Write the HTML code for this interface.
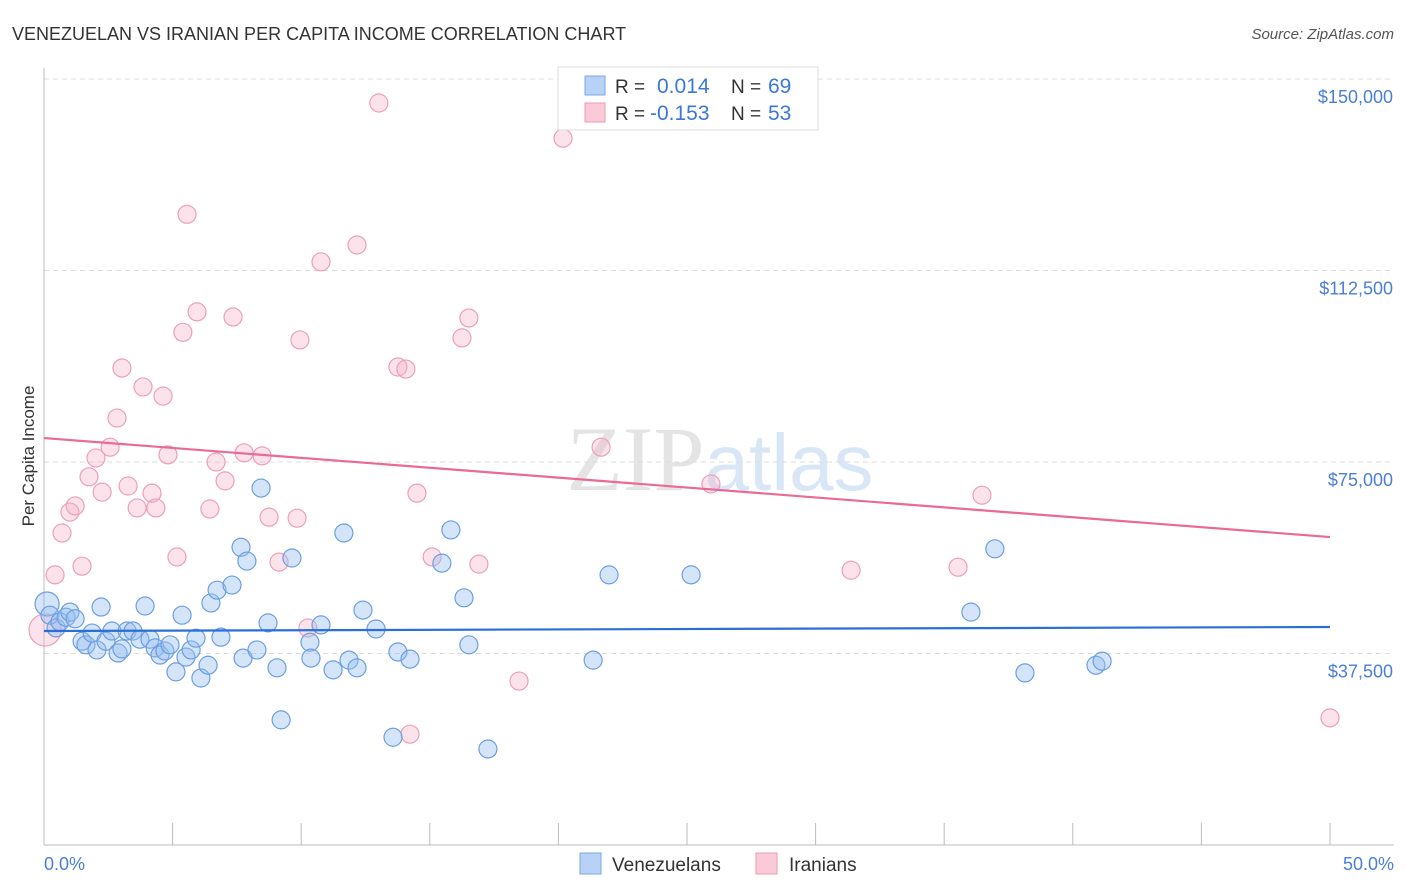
<!DOCTYPE html>
<html><head><meta charset="utf-8"><style>
body{margin:0;background:#fff;font-family:"Liberation Sans",sans-serif;}
svg{display:block}
</style></head><body>
<svg id="chart" width="1406" height="892" xmlns="http://www.w3.org/2000/svg">
<text x="12" y="40" font-size="18" fill="#333">VENEZUELAN VS IRANIAN PER CAPITA INCOME CORRELATION CHART</text>
<text x="1394" y="39" font-size="15" fill="#555" font-style="italic" text-anchor="end">Source: ZipAtlas.com</text>
<text x="720" y="490" font-size="92" fill="#e4e4e4" text-anchor="middle" font-family="Liberation Serif">ZIP<tspan fill="#d8e6f6" font-family="Liberation Sans" font-size="80">atlas</tspan></text>
<g id="grid"></g>
<g id="axes"></g>
<g id="points"></g>
<g id="trends"></g>
<text transform="translate(34,456) rotate(-90)" font-size="17" fill="#333" text-anchor="middle">Per Capita Income</text>
<text x="44" y="870" font-size="18" fill="#4a7fd6">0.0%</text>
<text x="1394" y="870" font-size="18" fill="#4a7fd6" text-anchor="end">50.0%</text>
<g>
<rect x="558" y="67" width="260" height="63" fill="#fff" stroke="#ddd"/>
<rect x="585" y="76" width="20" height="19" fill="#b8d2f6" stroke="#7aa8e8"/>
<rect x="585" y="103" width="20" height="19" fill="#fbcad8" stroke="#eb9ab5"/>
<text x="615" y="93" font-size="19" fill="#333">R = </text><text x="657" y="93" font-size="21" fill="#3b78d8">0.014</text>
<text x="731" y="93" font-size="19" fill="#333">N = </text><text x="768" y="93" font-size="21" fill="#3b78d8">69</text>
<text x="615" y="120" font-size="19" fill="#333">R = </text><text x="650" y="120" font-size="21" fill="#3b78d8">-0.153</text>
<text x="731" y="120" font-size="19" fill="#333">N = </text><text x="768" y="120" font-size="21" fill="#3b78d8">53</text>
</g>
<g>
<rect x="580" y="853" width="21" height="21" fill="#b8d2f6" stroke="#7aa8e8"/>
<text x="612" y="871" font-size="19" fill="#333">Venezuelans</text>
<rect x="756" y="853" width="21" height="21" fill="#fbcad8" stroke="#eb9ab5"/>
<text x="789" y="871" font-size="19" fill="#333">Iranians</text>
</g>
</svg>
<script>
const yTicks=[37500,75000,112500,150000];
const yTickLabels=["$37,500","$75,000","$112,500","$150,000"];
const blueX=[0.12,0.23,0.47,0.62,0.86,1.01,1.21,1.48,1.63,1.87,2.06,2.22,2.41,2.64,2.88,3.03,3.23,3.46,3.73,3.93,4.12,4.32,4.51,4.70,4.90,5.13,5.37,5.52,5.72,5.91,6.10,6.38,6.49,6.73,6.88,7.31,7.66,7.74,7.89,8.28,8.44,8.71,9.06,9.22,9.64,10.34,10.38,10.77,11.24,11.66,11.86,12.17,12.40,12.91,13.57,13.76,14.23,15.47,15.82,16.33,16.52,17.26,21.35,21.97,25.16,36.04,36.97,38.14,40.90,41.14];
const blueY=[47.2,45.0,42.5,43.7,44.6,45.6,44.3,39.9,39.2,41.5,38.2,46.6,39.9,41.9,37.6,38.4,41.9,41.9,40.3,46.8,40.3,38.6,37.2,38.0,39.2,33.9,45.0,36.8,38.2,40.5,32.7,35.2,47.4,49.9,40.7,50.9,58.3,36.6,55.6,38.2,69.9,43.5,34.7,24.5,56.2,39.7,36.6,43.1,34.3,61.1,36.2,34.7,46.0,42.3,21.1,37.8,36.4,55.2,61.7,48.4,39.2,18.8,36.2,52.9,52.9,45.6,58.0,33.7,35.2,36.0];
const pinkX=[0.04,0.43,0.70,1.01,1.21,1.48,1.75,2.02,2.26,2.57,2.84,3.03,3.27,3.62,3.85,4.20,4.35,4.63,4.82,5.17,5.40,5.56,5.95,6.45,6.69,7.04,7.35,7.78,8.48,8.75,9.14,9.84,9.95,10.26,10.77,12.17,13.02,13.76,14.07,14.23,14.50,15.09,16.25,16.52,16.91,18.47,20.18,21.66,25.93,31.38,35.54,36.47,50.0];
const pinkY=[42.1,52.9,61.1,65.2,66.4,54.6,72.1,75.8,69.1,77.9,83.6,93.4,70.3,66.0,89.7,68.9,66.0,87.9,76.4,56.4,100.4,123.5,104.4,65.8,75.0,71.3,103.4,76.8,76.2,64.2,55.4,64.0,98.9,42.5,114.2,117.5,145.3,93.6,93.2,21.7,68.9,56.4,99.3,103.2,55.0,32.1,138.4,77.9,70.7,53.8,54.4,68.5,24.9];
const blueTrend=[41900,42690];
const pinkTrend=[79690,60300];
const NS="http://www.w3.org/2000/svg";
const xs=v=>44+v/50*1286;
const ys=v=>845-v/150000*766;
function mk(tag,attrs,parent){const e=document.createElementNS(NS,tag);for(const k in attrs)e.setAttribute(k,attrs[k]);document.getElementById(parent).appendChild(e);return e;}
yTicks.forEach((t,i)=>{
  const l=mk('line',{x1:44,x2:1394,y1:ys(t),y2:ys(t),stroke:'#ddd','stroke-dasharray':'5,4'},'grid');
  
  
  const tx=mk('text',{x:1393,y:ys(t)+24,'font-size':18,fill:'#4a7fd6','text-anchor':'end'},'grid');
  tx.textContent=yTickLabels[i];
  
  
});
let ax=mk('line',{x1:44,x2:44,y1:68,y2:845,stroke:'#bbb'},'axes');


ax=mk('line',{x1:44,x2:1394,y1:845,y2:845,stroke:'#bbb'},'axes');


for(let i=0;i<=10;i++){
  const t=mk('line',{x1:xs(i*5),x2:xs(i*5),y1:823,y2:845,stroke:'#bbb'},'axes');
  
  
}
function pts(X,Y,fill,stroke,name){
  X.forEach((x,i)=>{
    const r=i===0?(name==='iranian-point'?16:12):9;
    const c=mk('circle',{cx:xs(x),cy:ys(Y[i]*1000),r:r,fill:fill,stroke:stroke,'stroke-width':1.2},'points');
    
    
  });
}
pts(pinkX,pinkY,'rgba(246,172,197,0.35)','#eba0ba','iranian-point');
pts(blueX,blueY,'rgba(150,190,240,0.4)','#6c9fe2','venezuelan-point');
let tl=mk('line',{x1:xs(0),x2:xs(50),y1:ys(blueTrend[0]),y2:ys(blueTrend[1]),stroke:'#2a6fd6','stroke-width':2.2},'trends');


tl=mk('line',{x1:xs(0),x2:xs(50),y1:ys(pinkTrend[0]),y2:ys(pinkTrend[1]),stroke:'#e86a95','stroke-width':2.2},'trends');


</script>
</body></html>
